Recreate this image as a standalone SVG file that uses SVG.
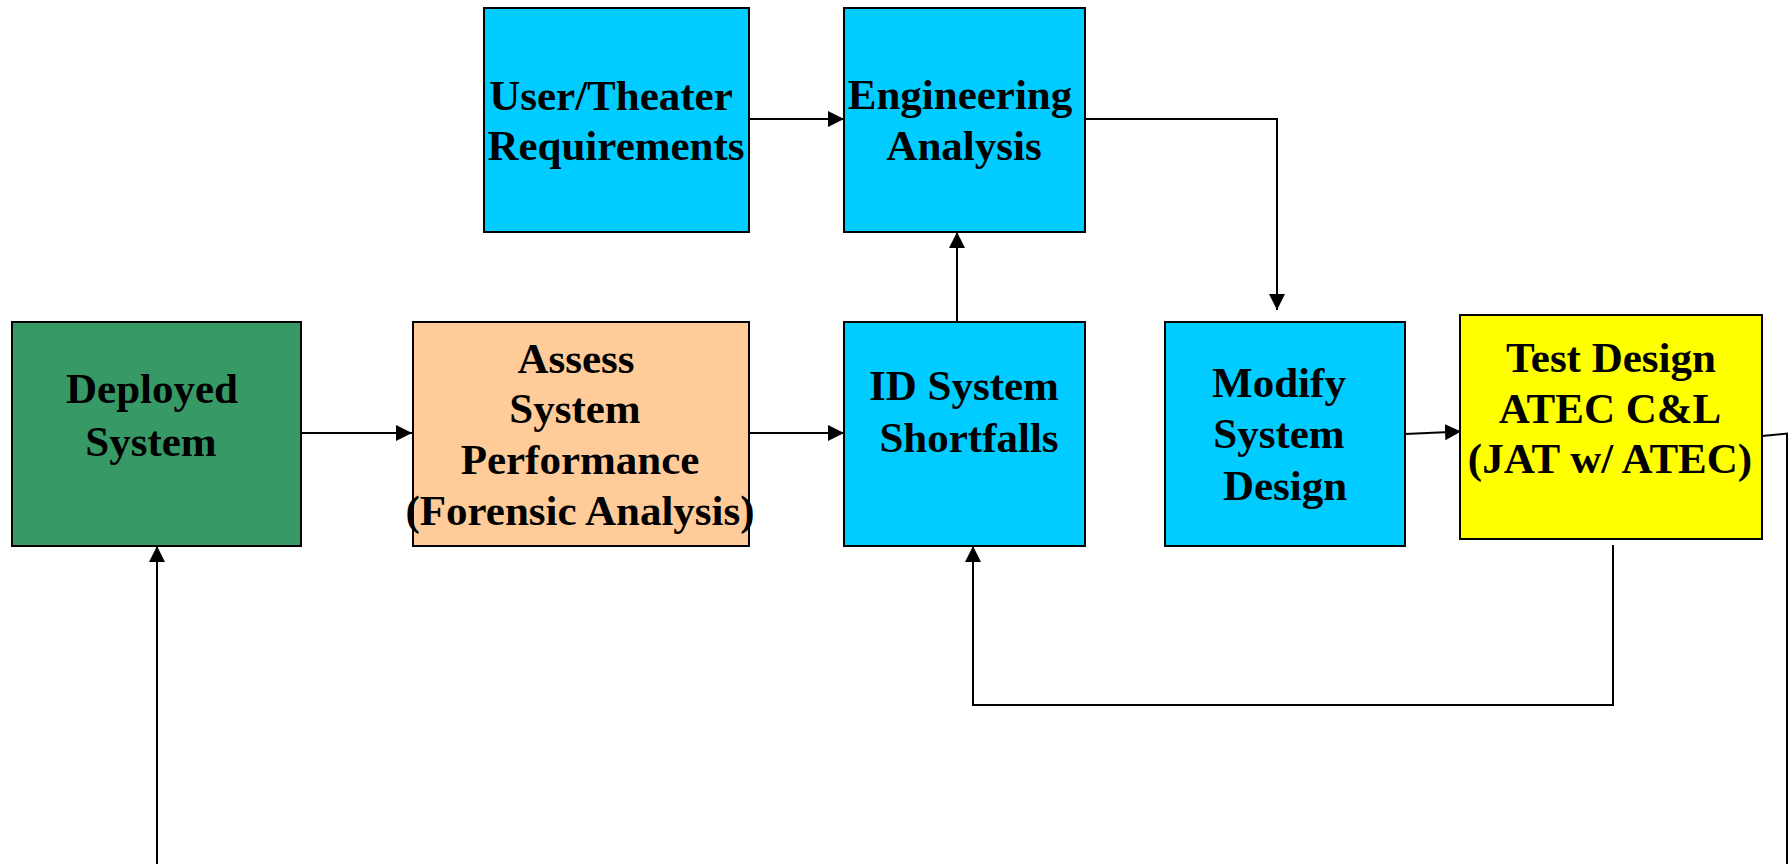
<svg xmlns="http://www.w3.org/2000/svg" width="1789" height="864" viewBox="0 0 1789 864">
<style>
.box{stroke:#000;stroke-width:2}
.lbl{font-family:"Liberation Serif","Times New Roman",serif;font-weight:bold;font-size:43px;fill:#000;text-anchor:middle}
.con{fill:none;stroke:#000;stroke-width:2}
</style>
<defs>
<marker id="arr" markerUnits="userSpaceOnUse" markerWidth="17" markerHeight="17" refX="16" refY="8" orient="auto">
<path d="M0,0 L16,8 L0,16 z" fill="#000"/>
</marker>
</defs>
<rect width="1789" height="864" fill="#fff"/>
<g id="connectors">
<path class="con" d="M301,433 H412" marker-end="url(#arr)"/>
<path class="con" d="M749,433 H844" marker-end="url(#arr)"/>
<path class="con" d="M749,119 H844" marker-end="url(#arr)"/>
<path class="con" d="M957,321 V232" marker-end="url(#arr)"/>
<path class="con" d="M1085,119 H1277 V310" marker-end="url(#arr)"/>
<path class="con" d="M1405,434 L1461,431.5" marker-end="url(#arr)"/>
<path class="con" d="M1762,436 L1787,433.5 V864"/>
<path class="con" d="M1613,545 V705 H973 V546" marker-end="url(#arr)"/>
<path class="con" d="M157,864 V546" marker-end="url(#arr)"/>
</g>
<g id="deployed">
<rect class="box" x="12" y="322" width="289" height="224" fill="#369966"/>
<text class="lbl" x="152" y="403">Deployed</text>
<text class="lbl" x="151" y="456">System</text>
</g>
<g id="assess">
<rect class="box" x="413" y="322" width="336" height="224" fill="#FFCC99"/>
<text class="lbl" x="576" y="373">Assess</text>
<text class="lbl" x="575" y="423">System</text>
<text class="lbl" x="580" y="474">Performance</text>
<text class="lbl" x="580" y="525">(Forensic Analysis)</text>
</g>
<g id="user">
<rect class="box" x="484" y="8" width="265" height="224" fill="#00CCFF"/>
<text class="lbl" x="611" y="110">User/Theater</text>
<text class="lbl" x="616" y="160">Requirements</text>
</g>
<g id="engineering">
<rect class="box" x="844" y="8" width="241" height="224" fill="#00CCFF"/>
<text class="lbl" x="960" y="109">Engineering</text>
<text class="lbl" x="964" y="160">Analysis</text>
</g>
<g id="shortfalls">
<rect class="box" x="844" y="322" width="241" height="224" fill="#00CCFF"/>
<text class="lbl" x="964" y="400">ID System</text>
<text class="lbl" x="969" y="452">Shortfalls</text>
</g>
<g id="modify">
<rect class="box" x="1165" y="322" width="240" height="224" fill="#00CCFF"/>
<text class="lbl" x="1279" y="397">Modify</text>
<text class="lbl" x="1279" y="448">System</text>
<text class="lbl" x="1285" y="500">Design</text>
</g>
<g id="testdesign">
<rect class="box" x="1460" y="315" width="302" height="224" fill="#FFFF00"/>
<text class="lbl" x="1611" y="372">Test Design</text>
<text class="lbl" x="1610" y="423">ATEC C&amp;L</text>
<text class="lbl" x="1610" y="473">(JAT w/ ATEC)</text>
</g>
</svg>
